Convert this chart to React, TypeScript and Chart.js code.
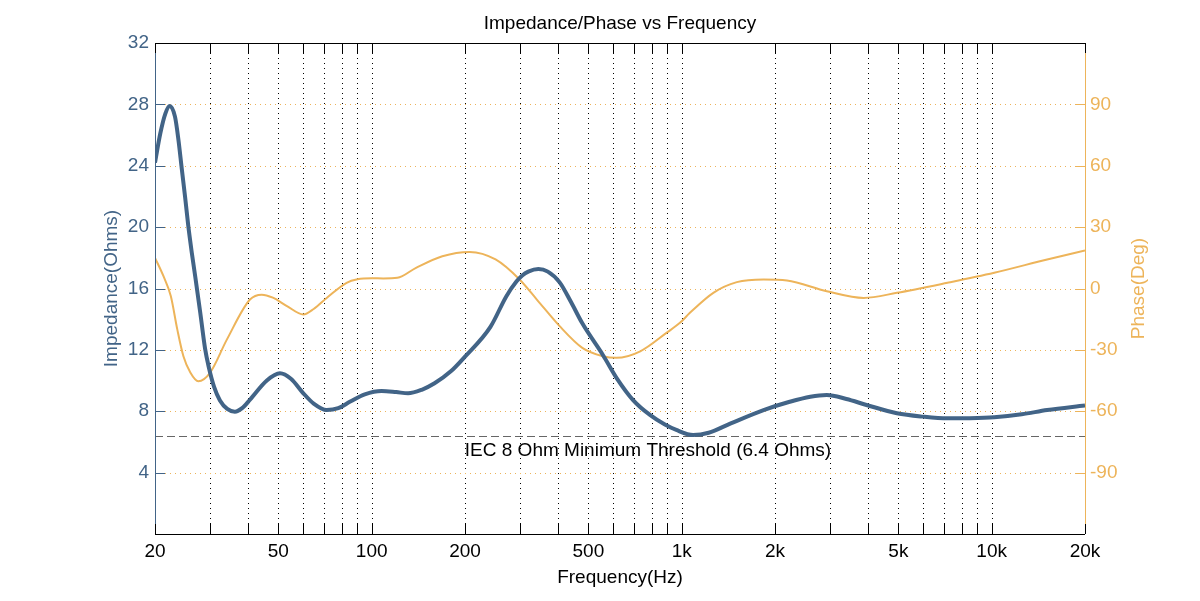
import React, { useRef, useEffect } from "react";
import { Chart, registerables } from "chart.js";

Chart.register(...registerables);

// frequency (Hz) / impedance (ohms)
const impFreq = [
  20, 20.8, 21.6, 22.3, 23.2, 23.8, 24.4, 25, 25.6, 26.3, 27, 28, 29, 29.8, 31, 32.4, 34.2, 36.2,
  38.2, 40.5, 45.9, 50.6, 55, 60, 65, 71.6, 78, 85.3, 95, 107.6, 120, 131, 145, 159.5, 180, 200,
  241.6, 272, 293, 306, 320, 345, 370, 404, 440, 478, 557, 620, 697, 790, 880, 961, 1089, 1222,
  1440, 1837, 2231, 2600, 2938, 3400, 3946, 4945, 6000, 7202, 8500, 10190, 12500, 15100, 20000,
];
const impedance = [
  24.2, 26.1, 27.4, 27.9, 27.2, 25.7, 23.8, 22.0, 20.1, 18.3, 16.7, 14.4, 12.1, 10.9, 9.6, 8.7,
  8.15, 7.97, 8.2, 8.75, 10.0, 10.47, 10.1, 9.2, 8.5, 8.08, 8.2, 8.63, 9.1, 9.32, 9.25, 9.17,
  9.4, 9.82, 10.6, 11.56, 13.5, 15.5, 16.45, 16.85, 17.1, 17.27, 17.1, 16.4, 15.1, 13.73, 11.67,
  10.1, 8.73, 7.76, 7.15, 6.78, 6.45, 6.6, 7.21, 8.08, 8.62, 8.95, 9.06, 8.8, 8.41, 7.87, 7.65,
  7.54, 7.55, 7.61, 7.8, 8.08, 8.37,
];

// frequency (Hz) / phase (deg)
const phaseFreq = [
  20, 21.3, 22.5, 23.6, 24.7, 26, 27.6, 30.1, 34.1, 40.5, 44.2, 48, 53.3, 60.2, 65, 71.6, 83, 90,
  100, 109, 121, 139, 169, 207, 251, 300, 341, 404, 478, 557, 616, 735, 893, 987, 1063, 1265,
  1506, 1837, 2185, 2938, 3864, 4945, 7202, 10190, 15100, 20000,
];
const phase = [
  15, 6, -3.8, -20, -33.1, -41, -45.3, -41.2, -25, -5.4, -3, -4.5, -8.6, -12.7, -10, -4.6, 2.8,
  4.5, 5.0, 4.9, 5.2, 10.1, 15.8, 17.9, 14.2, 4.4, -5.4, -18.4, -29, -33.1, -33.9, -30.7, -21.7,
  -16.8, -11.9, -2.1, 3.1, 4.4, 3.9, -1.3, -4.6, -2.1, 2.8, 7.7, 14.2, 18.6,
];

const threshold = 6.4;
const thresholdLabel = "IEC 8 Ohm Minimum Threshold (6.4 Ohms)";

const xGrid = [
  20, 30, 40, 50, 60, 70, 80, 90, 100, 200, 300, 400, 500, 600, 700, 800, 900, 1000, 2000, 3000,
  4000, 5000, 6000, 7000, 8000, 9000, 10000, 20000,
];
const xLabels: Record<number, string> = {
  20: "20", 50: "50", 100: "100", 200: "200", 500: "500",
  1000: "1k", 2000: "2k", 5000: "5k", 10000: "10k", 20000: "20k",
};
const impTicks = [4, 8, 12, 16, 20, 24, 28];
const phaseTicks = [-90, -60, -30, 0, 30, 60, 90];

const BLUE = "#426487";
const ORANGE = "#EDB45A";
const FONT = "'Liberation Sans', Arial, sans-serif";

const gridPlugin = {
  id: "gridLines",
  beforeDatasetsDraw(chart: any) {
    const { ctx, chartArea: a, scales } = chart;
    ctx.save();
    ctx.lineWidth = 1;
    ctx.setLineDash([1, 4]);
    ctx.strokeStyle = "#000";
    xGrid.slice(1, -1).forEach((v) => {
      const px = Math.round(scales.x.getPixelForValue(v)) + 0.5;
      ctx.beginPath();
      ctx.moveTo(px, a.top);
      ctx.lineTo(px, a.bottom);
      ctx.stroke();
    });
    ctx.strokeStyle = ORANGE;
    impTicks.forEach((v) => {
      const py = Math.round(scales.y.getPixelForValue(v)) + 0.5;
      ctx.beginPath();
      ctx.moveTo(a.left, py);
      ctx.lineTo(a.right, py);
      ctx.stroke();
    });
    // threshold line
    ctx.setLineDash([8, 4]);
    ctx.strokeStyle = "#666";
    const ty = Math.round(scales.y.getPixelForValue(threshold)) + 0.5;
    ctx.beginPath();
    ctx.moveTo(a.left, ty);
    ctx.lineTo(a.right, ty);
    ctx.stroke();
    ctx.restore();
  },
};

const framePlugin = {
  id: "frame",
  afterDraw(chart: any) {
    const { ctx, chartArea: a, scales } = chart;
    const x = scales.x, y = scales.y, y1 = scales.y1;
    ctx.save();
    ctx.lineWidth = 1;
    const line = (xa: number, ya: number, xb: number, yb: number, c: string) => {
      ctx.strokeStyle = c;
      ctx.beginPath();
      ctx.moveTo(xa, ya);
      ctx.lineTo(xb, yb);
      ctx.stroke();
    };
    line(a.left, a.top + 0.5, a.right, a.top + 0.5, "#000");
    line(a.left, a.bottom + 0.5, a.right, a.bottom + 0.5, "#000");
    line(a.left + 0.5, a.top, a.left + 0.5, a.bottom, BLUE);
    line(a.right + 0.5, a.top, a.right + 0.5, a.bottom, ORANGE);
    xGrid.forEach((v) => {
      const px = Math.round(x.getPixelForValue(v)) + 0.5;
      line(px, a.top, px, a.top + 10, "#000");
      line(px, a.bottom, px, a.bottom - 10, "#000");
    });
    impTicks.forEach((v) => {
      const py = Math.round(y.getPixelForValue(v)) + 0.5;
      line(a.left, py, a.left + 10, py, BLUE);
    });
    phaseTicks.forEach((v) => {
      const py = Math.round(y1.getPixelForValue(v)) + 0.5;
      line(a.right - 10, py, a.right, py, ORANGE);
    });

    ctx.font = `19px ${FONT}`;
    ctx.textAlign = "center";
    ctx.textBaseline = "alphabetic";
    ctx.fillStyle = "#000";
    ctx.fillText("Impedance/Phase vs Frequency", (a.left + a.right) / 2, 29);
    ctx.fillText("Frequency(Hz)", (a.left + a.right) / 2, 583);
    ctx.fillText(thresholdLabel, 648, y.getPixelForValue(threshold) + 20);

    ctx.textBaseline = "middle";
    ctx.save();
    ctx.translate(112, (a.top + a.bottom) / 2);
    ctx.rotate(-Math.PI / 2);
    ctx.fillStyle = BLUE;
    ctx.fillText("Impedance(Ohms)", 0, 0);
    ctx.restore();
    ctx.save();
    ctx.translate(1139, (a.top + a.bottom) / 2);
    ctx.rotate(-Math.PI / 2);
    ctx.fillStyle = ORANGE;
    ctx.fillText("Phase(Deg)", 0, 0);
    ctx.restore();
    ctx.restore();
  },
};

const App = () => {
  const chartRef = useRef<HTMLCanvasElement | null>(null);
  const chartInstanceRef = useRef<Chart | null>(null);

  useEffect(() => {
    if (chartInstanceRef.current) {
      chartInstanceRef.current.destroy();
    }
    const ctx = chartRef.current?.getContext("2d");
    if (ctx) {
      chartInstanceRef.current = new Chart(ctx, {
        type: "line",
        data: {
          datasets: [
            {
              label: "Impedance",
              data: impFreq.map((f, i) => ({ x: f, y: impedance[i] })),
              borderColor: BLUE,
              borderWidth: 4,
              pointRadius: 0,
              cubicInterpolationMode: "monotone",
              yAxisID: "y",
            },
            {
              label: "Phase",
              data: phaseFreq.map((f, i) => ({ x: f, y: phase[i] })),
              borderColor: ORANGE,
              borderWidth: 2,
              pointRadius: 0,
              cubicInterpolationMode: "monotone",
              yAxisID: "y1",
            },
          ],
        },
        options: {
          responsive: false,
          animation: false,
          layout: { padding: { top: 43, left: 0, right: 0, bottom: 0 } },
          plugins: { legend: { display: false }, tooltip: { enabled: false } },
          scales: {
            x: {
              type: "logarithmic",
              min: 20,
              max: 20000,
              afterBuildTicks: (scale: any) => {
                scale.ticks = xGrid.map((v) => ({ value: v }));
              },
              afterFit: (scale: any) => {
                scale.height = 67;
              },
              ticks: {
                autoSkip: false,
                maxRotation: 0,
                padding: 6,
                color: "#000",
                font: { family: FONT, size: 19 },
                callback: (v: any) => xLabels[Number(v)] ?? "",
              },
              grid: { display: false, drawTicks: false },
              border: { display: false },
            },
            y: {
              type: "linear",
              position: "left",
              min: 0,
              max: 32,
              afterFit: (scale: any) => {
                scale.width = 155;
              },
              ticks: {
                stepSize: 4,
                padding: 6,
                color: BLUE,
                font: { family: FONT, size: 19 },
                callback: (v: any) => (v === 0 ? "" : String(v)),
              },
              grid: { display: false, drawTicks: false },
              border: { display: false },
            },
            y1: {
              type: "linear",
              position: "right",
              min: -120,
              max: 120,
              afterFit: (scale: any) => {
                scale.width = 115;
              },
              ticks: {
                stepSize: 30,
                padding: 5,
                color: ORANGE,
                font: { family: FONT, size: 19 },
                callback: (v: any) => (Math.abs(v) === 120 ? "" : String(v)),
              },
              grid: { display: false, drawTicks: false },
              border: { display: false },
            },
          },
        },
        plugins: [gridPlugin, framePlugin],
      } as any);
    }
    return () => {
      if (chartInstanceRef.current) {
        chartInstanceRef.current.destroy();
        chartInstanceRef.current = null;
      }
    };
  }, []);

  return (
    <div style={{ position: "absolute", left: 0, top: 0, width: 1200, height: 601, background: "#fff" }}>
      <canvas ref={chartRef} width={1200} height={601} />
    </div>
  );
};

export default App;
